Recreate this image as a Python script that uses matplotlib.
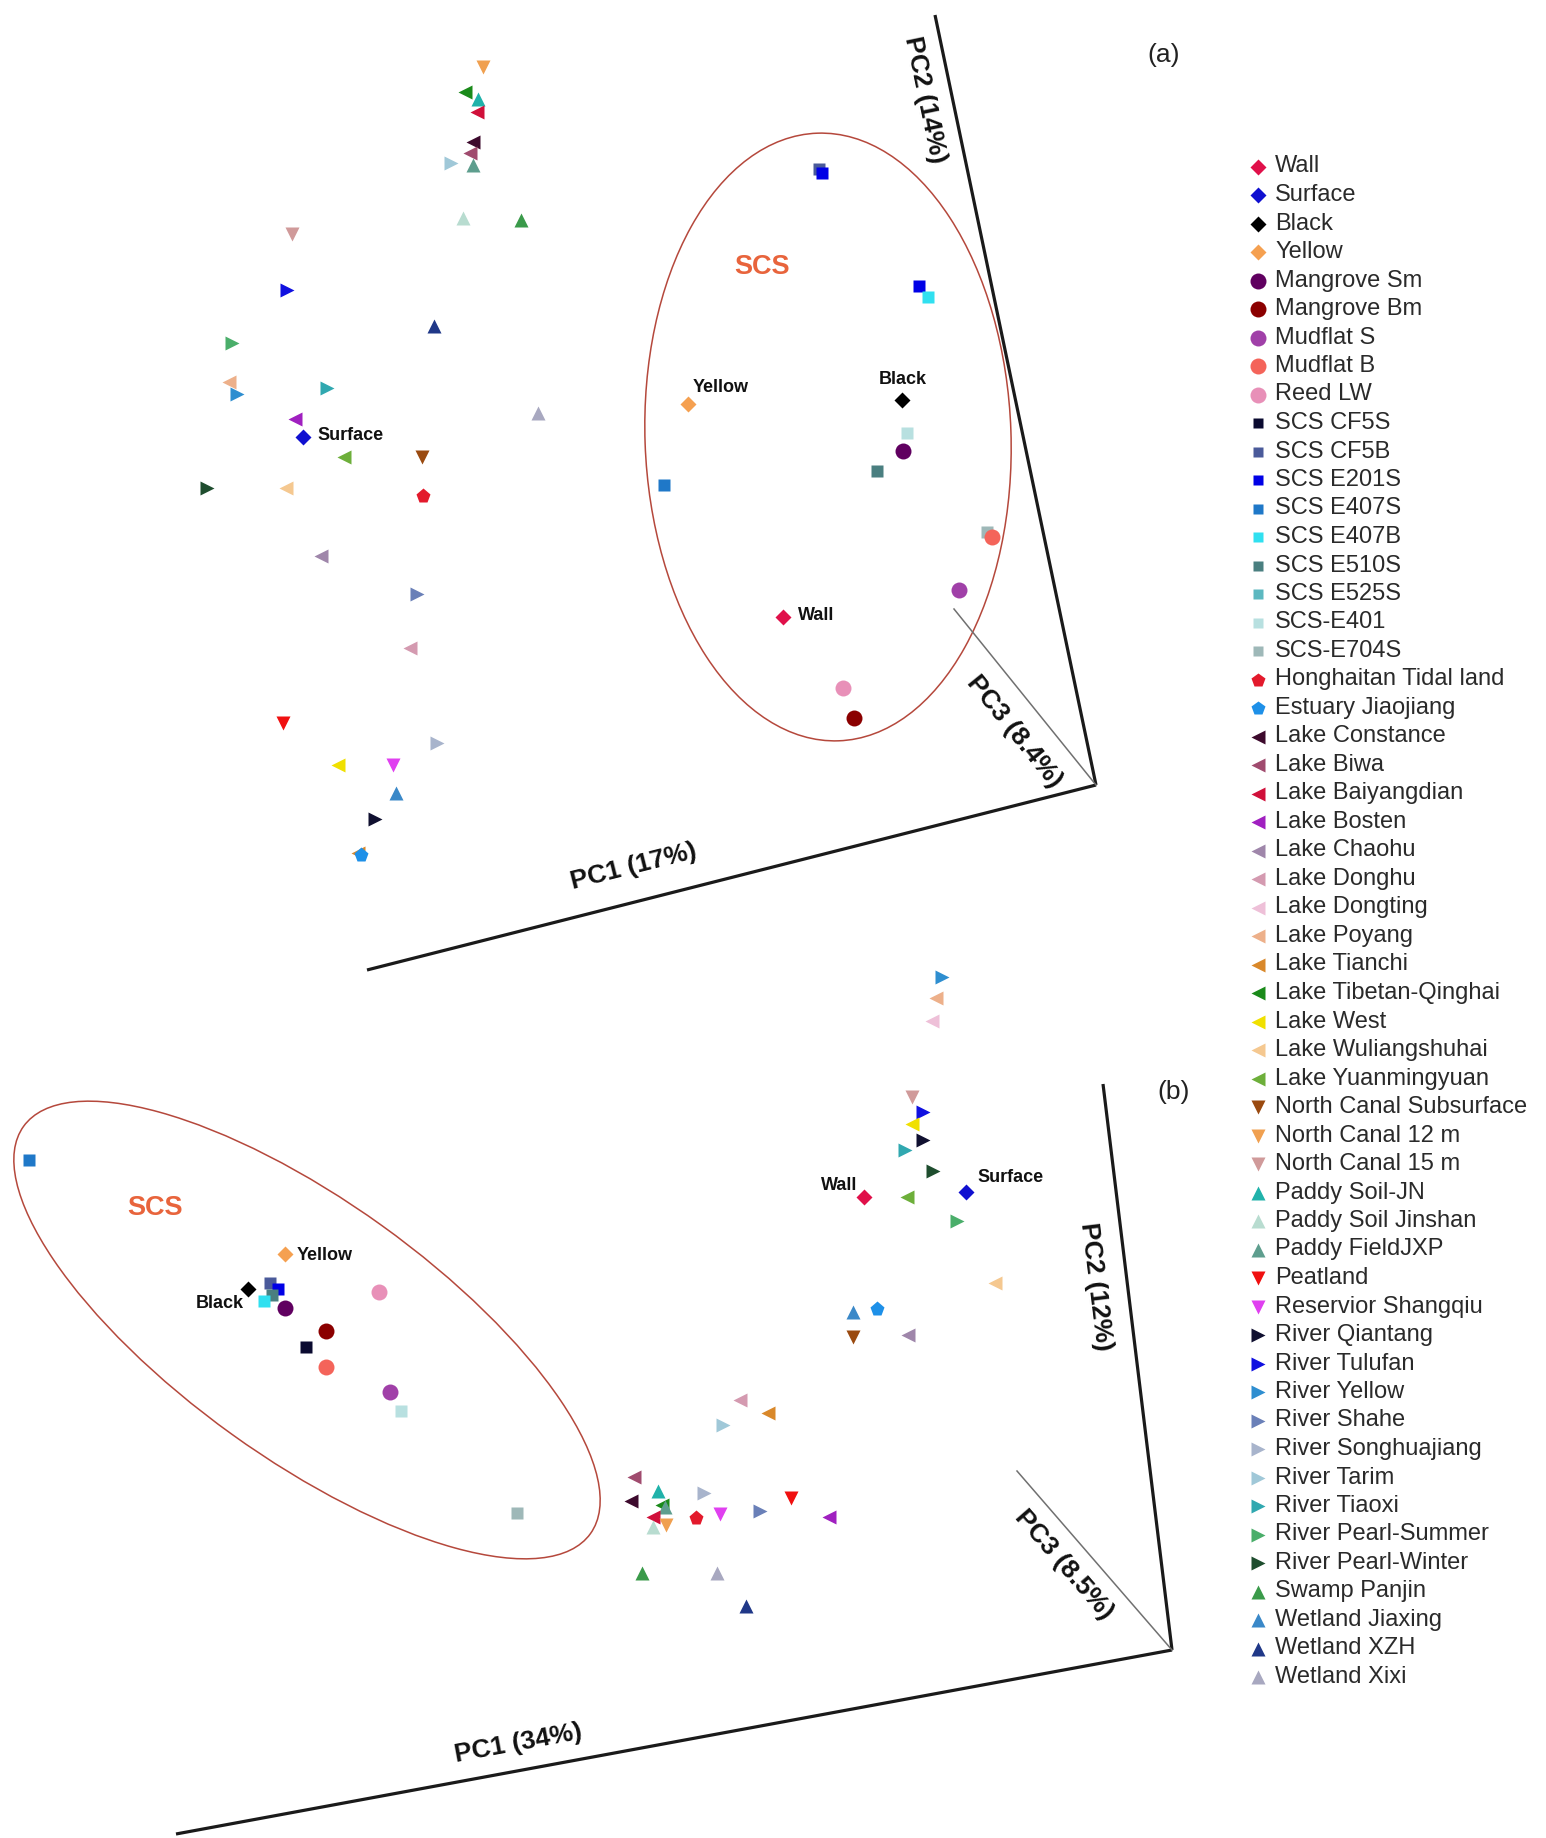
import matplotlib.pyplot as plt
from matplotlib.patches import Ellipse

plt.rcParams['font.family'] = ['Liberation Sans', 'DejaVu Sans']

# sample groups in legend order
names = ['Wall', 'Surface', 'Black', 'Yellow', 'Mangrove Sm', 'Mangrove Bm',
         'Mudflat S', 'Mudflat B', 'Reed LW', 'SCS CF5S', 'SCS CF5B',
         'SCS E201S', 'SCS E407S', 'SCS E407B', 'SCS E510S', 'SCS E525S',
         'SCS-E401', 'SCS-E704S', 'Honghaitan Tidal land', 'Estuary Jiaojiang',
         'Lake Constance', 'Lake Biwa', 'Lake Baiyangdian', 'Lake Bosten',
         'Lake Chaohu', 'Lake Donghu', 'Lake Dongting', 'Lake Poyang',
         'Lake Tianchi', 'Lake Tibetan-Qinghai', 'Lake West',
         'Lake Wuliangshuhai', 'Lake Yuanmingyuan', 'North Canal Subsurface',
         'North Canal 12 m', 'North Canal 15 m', 'Paddy Soil-JN',
         'Paddy Soil Jinshan', 'Paddy FieldJXP', 'Peatland',
         'Reservior Shangqiu', 'River Qiantang', 'River Tulufan',
         'River Yellow', 'River Shahe', 'River Songhuajiang', 'River Tarim',
         'River Tiaoxi', 'River Pearl-Summer', 'River Pearl-Winter',
         'Swamp Panjin', 'Wetland Jiaxing', 'Wetland XZH', 'Wetland Xixi']

markers = (['D'] * 4 + ['o'] * 5 + ['s'] * 9 + ['p'] * 2 + ['<'] * 13
           + ['v'] * 3 + ['^'] * 3 + ['v'] * 2 + ['>'] * 9 + ['^'] * 4)

colors = ['#e0104a', '#1010d0', '#000000', '#f5a050', '#600060', '#8b0000',
          '#a040a8', '#f4645a', '#e890b8', '#0a0a30', '#4a5a9a', '#0000e6',
          '#1f78c8', '#30e0f0', '#4a7f80', '#5cb8c0', '#b8e0e0', '#9eb8b8',
          '#e31a2c', '#1e90e8', '#3d0a2d', '#a04b6e', '#d0103a', '#a020c0',
          '#9f86aa', '#d49ab0', '#eec0d8', '#edb08a', '#d9882a', '#1a8a1a',
          '#f0e000', '#f5c890', '#6daf3a', '#9a4a10', '#f0a050', '#d09a9a',
          '#20b2aa', '#b8dcd0', '#5e9e8e', '#f01010', '#e040f0', '#101030',
          '#1010e0', '#2e8ed0', '#6a80b8', '#a8b4cc', '#a0c8d8', '#30a8b0',
          '#4aae6a', '#1e4d2e', '#3a9a4a', '#3a88c8', '#203888', '#a8a8c0']

# ordination scores, panel (a)
a_samples = ['North Canal 12 m', 'Lake Tibetan-Qinghai', 'Paddy Soil-JN',
             'Lake Baiyangdian', 'Lake Constance', 'Lake Biwa', 'River Tarim',
             'Paddy FieldJXP', 'Paddy Soil Jinshan', 'Swamp Panjin',
             'North Canal 15 m', 'River Tulufan', 'Wetland XZH',
             'River Pearl-Summer', 'Lake Poyang', 'River Yellow', 'River Tiaoxi',
             'Wetland Xixi', 'Lake Bosten', 'Surface', 'Lake Yuanmingyuan',
             'North Canal Subsurface', 'River Pearl-Winter',
             'Lake Wuliangshuhai', 'Honghaitan Tidal land', 'Lake Chaohu',
             'River Shahe', 'Lake Donghu', 'Peatland', 'River Songhuajiang',
             'Lake West', 'Reservior Shangqiu', 'Wetland Jiaxing',
             'River Qiantang', 'Lake Tianchi', 'Estuary Jiaojiang',
             'SCS CF5B', 'SCS E201S', 'SCS E201S', 'SCS E407B', 'Yellow',
             'Black', 'SCS-E401', 'Mangrove Sm', 'SCS E510S', 'SCS E407S',
             'SCS-E704S', 'Mudflat B', 'Mudflat S', 'Wall', 'Reed LW',
             'Mangrove Bm']
a_x = [483, 465, 478, 477, 473, 470, 451, 473, 463, 521, 292, 287, 434, 232,
       229, 237, 327, 538, 295, 303, 344, 422, 207, 286, 423, 321, 417, 410,
       283, 437, 338, 393, 396, 375, 358, 361, 819, 822, 919, 928, 688, 902,
       907, 903, 877, 664, 987, 992, 959, 783, 843, 854]
a_y = [67, 92, 99, 112, 142, 153, 163, 165, 218, 220, 234, 290, 326, 343,
       382, 394, 388, 413, 419, 437, 457, 457, 488, 488, 496, 556, 594, 648,
       723, 743, 765, 765, 793, 819, 853, 855, 169, 173, 286, 297, 404, 400,
       433, 451, 471, 485, 532, 537, 590, 617, 688, 718]

# ordination scores, panel (b)
b_samples = ['SCS E407S', 'Yellow', 'Black', 'SCS CF5B', 'SCS E201S',
             'SCS E510S', 'SCS E407B', 'Mangrove Sm', 'Reed LW', 'Mangrove Bm',
             'SCS CF5S', 'Mudflat B', 'Mudflat S', 'SCS-E401', 'SCS-E704S',
             'River Yellow', 'Lake Poyang', 'Lake Dongting', 'North Canal 15 m',
             'River Tulufan', 'Lake West', 'River Qiantang', 'River Tiaoxi',
             'River Pearl-Winter', 'Wall', 'Lake Yuanmingyuan', 'Surface',
             'River Pearl-Summer', 'Lake Wuliangshuhai', 'Wetland Jiaxing',
             'Estuary Jiaojiang', 'North Canal Subsurface', 'Lake Chaohu',
             'Lake Donghu', 'Lake Tianchi', 'River Tarim', 'Lake Biwa',
             'Paddy Soil-JN', 'River Songhuajiang', 'Lake Constance',
             'Lake Tibetan-Qinghai', 'Paddy FieldJXP', 'Lake Baiyangdian',
             'Paddy Soil Jinshan', 'North Canal 12 m', 'Honghaitan Tidal land',
             'Reservior Shangqiu', 'River Shahe', 'Peatland', 'Lake Bosten',
             'Swamp Panjin', 'Wetland Xixi', 'Wetland XZH']
b_x = [29, 285, 248, 270, 278, 272, 264, 285, 379, 326, 306, 326, 390, 401,
       517, 942, 936, 932, 912, 923, 912, 923, 905, 933, 864, 907, 966, 957,
       995, 853, 877, 853, 908, 740, 768, 723, 634, 658, 704, 631, 662, 665,
       653, 653, 666, 696, 720, 760, 791, 829, 642, 717, 746]
b_y = [1160, 1254, 1289, 1283, 1289, 1295, 1301, 1308, 1292, 1331, 1347,
       1367, 1392, 1411, 1513, 977, 998, 1021, 1097, 1112, 1124, 1140, 1150,
       1171, 1197, 1197, 1192, 1221, 1283, 1312, 1309, 1337, 1335, 1400,
       1413, 1425, 1477, 1491, 1493, 1501, 1505, 1507, 1517, 1527, 1525,
       1518, 1514, 1511, 1498, 1517, 1573, 1573, 1606]

# marker sizes (pt) per shape
msize = {'D': 7.8, 'o': 11.5, 's': 8.0, 'p': 11.0, '<': 9.5, '>': 9.5,
         'v': 9.5, '^': 9.5}
style = {n: (m, c) for n, m, c in zip(names, markers, colors)}

fig = plt.figure(figsize=(15.46, 18.38), dpi=100)
ax = fig.add_axes([0, 0, 1, 1])
ax.set_xlim(0, 1546)
ax.set_ylim(1838, 0)
ax.axis('off')


def draw_points(samples, xs, ys):
    for s, x, y in zip(samples, xs, ys):
        m, c = style[s]
        ax.plot(x, y, marker=m, ms=msize[m], color=c, mec='none', ls='none')


draw_points(a_samples, a_x, a_y)
draw_points(b_samples, b_x, b_y)

# SCS groupings
ax.add_patch(Ellipse((828, 437), 366, 608, angle=-2, fill=False,
                     ec='#b5483c', lw=1.1))
ax.add_patch(Ellipse((307, 1330), 698, 257, angle=35.7, fill=False,
                     ec='#b5483c', lw=1.1))
scs_kw = dict(color='#e8643c', fontsize=19.5, fontweight='bold',
              ha='center', va='center')
ax.text(762, 267, 'SCS', **scs_kw)
ax.text(155, 1208, 'SCS', **scs_kw)

# sample labels
lab_kw = dict(fontsize=13, fontweight='bold', color='#111111', va='center')
ax.text(317, 436, 'Surface', ha='left', **lab_kw)
ax.text(693, 388, 'Yellow', ha='left', **lab_kw)
ax.text(903, 380, 'Black', ha='center', **lab_kw)
ax.text(798, 615, 'Wall', ha='left', **lab_kw)
ax.text(297, 1256, 'Yellow', ha='left', **lab_kw)
ax.text(244, 1304, 'Black', ha='right', **lab_kw)
ax.text(857, 1185, 'Wall', ha='right', **lab_kw)
ax.text(977, 1177, 'Surface', ha='left', **lab_kw)

# PC axes
axis_kw = dict(color='#1a1a1a', lw=2.3, solid_capstyle='butt')
pc3_kw = dict(color='#707070', lw=1.1)
ax.plot([935, 1096], [15, 785], **axis_kw)
ax.plot([367, 1096], [970, 785], **axis_kw)
ax.plot([954, 1096], [609, 785], **pc3_kw)
ax.plot([1103, 1172], [1084, 1650], **axis_kw)
ax.plot([176, 1172], [1834, 1650], **axis_kw)
ax.plot([1017, 1172], [1471, 1650], **pc3_kw)

pc_kw = dict(fontsize=19, fontweight='bold', color='#111111', ha='center',
             va='center', rotation_mode='anchor')
ax.text(925, 100, 'PC2 (14%)', rotation=-78.2, **pc_kw)
ax.text(634, 867, 'PC1 (17%)', rotation=14.2, **pc_kw)
ax.text(1014, 732, 'PC3 (8.4%)', rotation=-51, **pc_kw)
ax.text(1096, 1287, 'PC2 (12%)', rotation=-83, **pc_kw)
ax.text(518, 1743, 'PC1 (34%)', rotation=10.5, **pc_kw)
ax.text(1064, 1565, 'PC3 (8.5%)', rotation=-49, **pc_kw)

ax.text(1164, 55, '(a)', fontsize=19, ha='center', va='center', color='#222222')
ax.text(1174, 1092, '(b)', fontsize=19, ha='center', va='center', color='#222222')

# legend column
leg_size = {'D': 8.0, 'o': 11.5, 's': 7.5, 'p': 10.5, '<': 9.5, '>': 9.5,
            'v': 9.5, '^': 9.5}
y0, dy = 166.5, 28.5
for i, (n, m, c) in enumerate(zip(names, markers, colors)):
    y = y0 + i * dy
    ax.plot(1258, y, marker=m, ms=leg_size[m], color=c, mec='none', ls='none')
    ax.text(1275, y, n, fontsize=17, color='#2a2a2a', ha='left', va='center')

fig.savefig('out.png', dpi=100)
